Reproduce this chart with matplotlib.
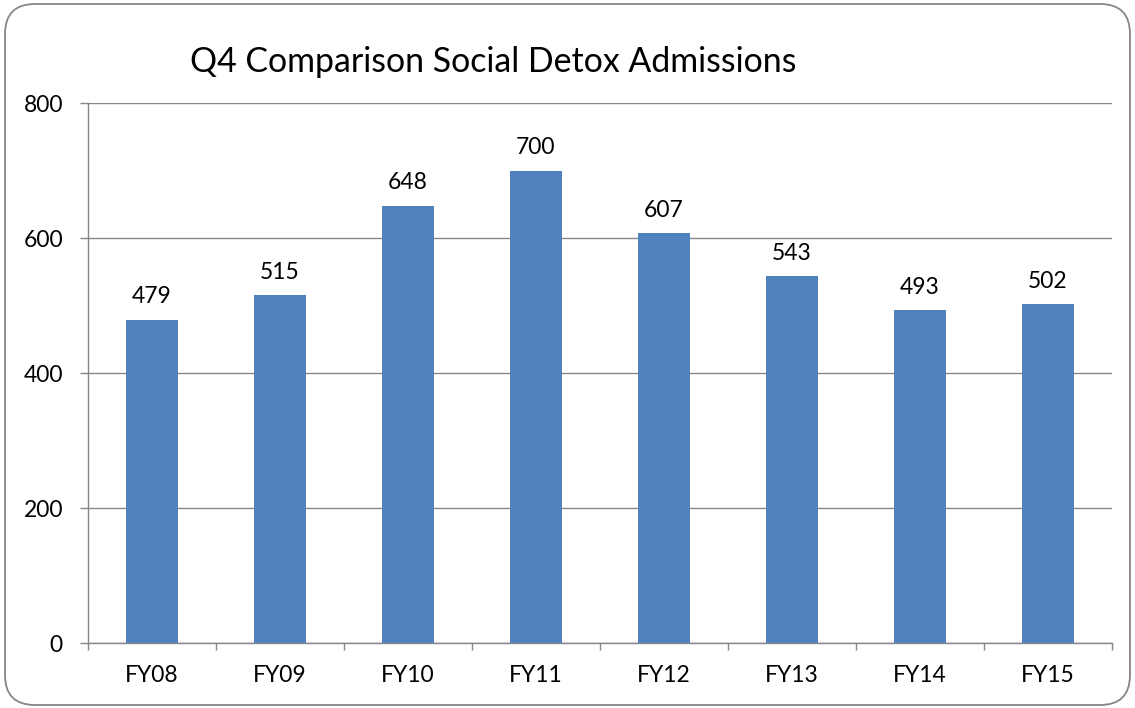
import matplotlib.pyplot as plt
from matplotlib.patches import FancyBboxPatch

categorias = ['FY08', 'FY09', 'FY10', 'FY11', 'FY12', 'FY13', 'FY14', 'FY15']
admisiones = [479, 515, 648, 700, 607, 543, 493, 502]
ticksY = [0, 200, 400, 600, 800]

plt.rcParams['font.family'] = ['Lato', 'DejaVu Sans']

fig = plt.figure(figsize=(11.35, 7.08), dpi=100)
ax = fig.add_axes([0.0775, 0.0918, 0.9022, 0.7627])

# marco redondeado alrededor del grafico
marco = FancyBboxPatch((0.05, 0.03), 11.25, 7.01, boxstyle="round,pad=0,rounding_size=0.3",
                       transform=fig.dpi_scale_trans, facecolor='white', edgecolor='#868686',
                       linewidth=1.3, zorder=-10)
fig.patches.append(marco)

x = range(len(categorias))
ax.bar(x, admisiones, width=0.4, color='#4F81BD', zorder=3)
for i, v in zip(x, admisiones):
    ax.annotate(str(v), (i, v), xytext=(0, 9), textcoords='offset points',
                ha='center', va='bottom', fontsize=16.5)

ax.set_xlim(-0.5, len(categorias) - 0.5)
ax.set_ylim(0, 800)
ax.set_yticks(ticksY)
ax.set_xticks([i - 0.5 for i in range(len(categorias) + 1)], minor=False)
ax.set_xticklabels([])
ax.set_xticks(list(x), minor=True)
ax.set_xticklabels(categorias, minor=True, fontsize=16.5)
ax.tick_params(axis='x', which='minor', length=0, pad=16)
ax.tick_params(axis='x', which='major', length=5, color='#868686', width=1)
ax.tick_params(axis='y', length=6, color='#868686', width=1, labelsize=16.5, pad=12)

ax.grid(True, axis='y', color='#868686', linewidth=1, zorder=0)
ax.set_axisbelow(True)
for lado in ['top', 'right']:
    ax.spines[lado].set_visible(False)
for lado in ['left', 'bottom']:
    ax.spines[lado].set_color('#868686')
    ax.spines[lado].set_linewidth(1)

fig.text(190 / 1135, 1 - 62 / 708, "Q4 Comparison Social Detox Admissions",
         fontsize=24.4, ha='left', va='center')

plt.savefig("out.png", dpi=100)
